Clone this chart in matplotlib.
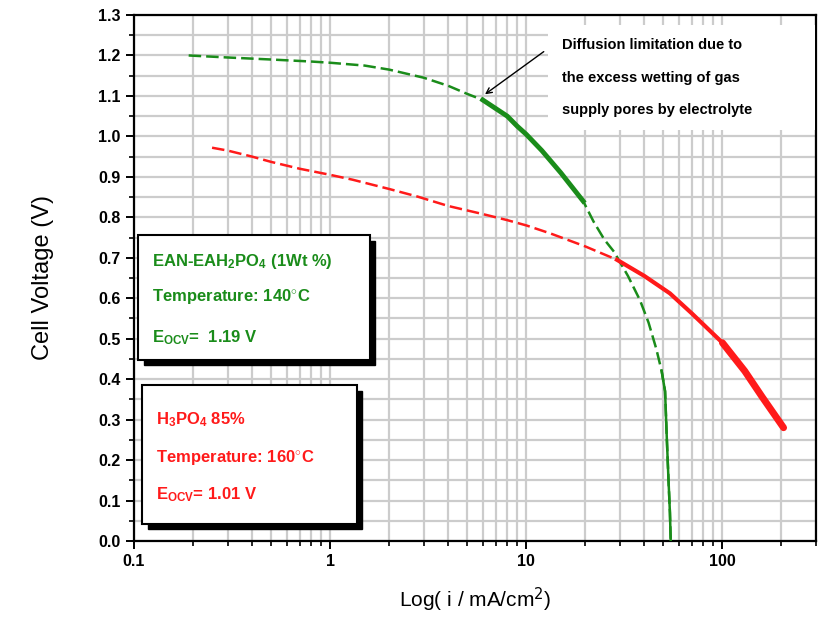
import numpy as np
import matplotlib
matplotlib.use("Agg")
import matplotlib.pyplot as plt
from matplotlib.patches import Rectangle
from matplotlib.ticker import LogLocator, MultipleLocator, NullFormatter, FixedFormatter, FixedLocator

plt.rcParams['font.family'] = ['Liberation Sans', 'DejaVu Sans']
plt.rcParams['mathtext.fontset'] = 'custom'
plt.rcParams['mathtext.rm'] = 'Liberation Sans:bold'
plt.rcParams['mathtext.default'] = 'rm'

# EAN-EAH2PO4 cell (green)
green_i = [0.19, 0.3, 0.5, 0.8, 1.0, 1.5, 2.0, 3.0, 4.0, 5.0, 6.0, 8.0, 9.0, 10, 12, 15,
           19.5, 22, 25, 28, 33, 38, 42, 46, 49, 51, 52, 53, 54, 54.5]
green_v = [1.20, 1.195, 1.19, 1.185, 1.182, 1.175, 1.165, 1.145, 1.125, 1.105, 1.09, 1.05,
           1.025, 1.005, 0.965, 0.91, 0.84, 0.79, 0.745, 0.715, 0.655, 0.595, 0.54, 0.475,
           0.42, 0.37, 0.26, 0.16, 0.07, 0.0]

# H3PO4 85% cell (red)
red_i = [0.25, 0.3, 0.4, 0.5, 0.7, 1.0, 1.3, 2.0, 2.8, 4.0, 6.0, 8.0, 10, 13.3, 20, 29,
         40, 54, 70, 100, 130, 160, 205]
red_v = [0.972, 0.965, 0.95, 0.937, 0.92, 0.905, 0.893, 0.87, 0.851, 0.828, 0.808, 0.793,
         0.78, 0.76, 0.728, 0.695, 0.655, 0.612, 0.562, 0.49, 0.42, 0.355, 0.28]

green_c = '#1a8c1a'
red_c = '#ff1a1a'

fig = plt.figure(figsize=(8.21, 6.17), dpi=100)
ax = fig.add_axes([134/821, 1-541/617, 682/821, 526/617])

ax.set_xscale('log')
ax.set_xlim(0.1, 300)
ax.set_ylim(0, 1.3)

ax.xaxis.set_major_locator(FixedLocator([0.1, 1, 10, 100]))
ax.xaxis.set_major_formatter(FixedFormatter(['0.1', '1', '10', '100']))
ax.xaxis.set_minor_locator(LogLocator(base=10, subs=np.arange(2, 10), numticks=20))
ax.xaxis.set_minor_formatter(NullFormatter())
ax.yaxis.set_major_locator(MultipleLocator(0.1))
ax.yaxis.set_minor_locator(MultipleLocator(0.05))
ax.yaxis.set_major_formatter(matplotlib.ticker.FormatStrFormatter('%.1f'))

ax.grid(True, which='both', color='#cccccc', linewidth=1.6, zorder=0)
ax.set_axisbelow(True)

for s in ax.spines.values():
    s.set_linewidth(1.6)
ax.tick_params(which='major', direction='out', length=6, width=1.4, labelsize=11.5)
ax.tick_params(which='minor', direction='out', length=3.5, width=1.2)
for lab in ax.get_xticklabels() + ax.get_yticklabels():
    lab.set_fontweight('bold')

# curves: sparse dashed parts plus dense segments
ax.plot(green_i, green_v, color=green_c, lw=1.8, ls=(0, (5, 2)), zorder=3)
gi = np.array(green_i); gv = np.array(green_v)
m = (gi >= 6) & (gi <= 19.5)
ax.plot(gi[m], gv[m], color=green_c, lw=3.5, zorder=3)
m2 = gi >= 49
ax.plot(gi[m2], gv[m2], color=green_c, lw=1.8, zorder=3)

ax.plot(red_i, red_v, color=red_c, lw=1.8, ls=(0, (5, 2)), zorder=3)
ri = np.array(red_i); rv = np.array(red_v)
m = ri >= 29
ax.plot(ri[m], rv[m], color=red_c, lw=3.0, zorder=3)
m = ri >= 100
ax.plot(ri[m], rv[m], color=red_c, lw=5.0, solid_capstyle='round', zorder=3)

ax.set_ylabel('Cell Voltage (V)', fontsize=17, labelpad=32)
ax.set_xlabel('Log( i / mA/cm$^{\\mathsf{2}}$)', fontsize=15, labelpad=12)

def box(x0, y0, x1, y1):
    sh = Rectangle((x0 + 0.008, y0 - 0.011), x1 - x0, y1 - y0, transform=ax.transAxes,
                   facecolor='black', edgecolor='black', zorder=5, clip_on=False)
    bx = Rectangle((x0, y0), x1 - x0, y1 - y0, transform=ax.transAxes,
                   facecolor='white', edgecolor='black', lw=1.5, zorder=6, clip_on=False)
    ax.add_patch(sh)
    ax.add_patch(bx)

box(0.006, 0.345, 0.346, 0.582)
box(0.012, 0.033, 0.327, 0.297)

tk = dict(transform=ax.transAxes, fontsize=12, fontweight='bold', zorder=7, va='center')
ax.text(0.026, 0.532, 'EAN-EAH$_2$PO$_4$ (1Wt %)', color=green_c, **tk)
ax.text(0.026, 0.464, 'Temperature: 140$^{\\circ}$C', color=green_c, **tk)
ax.text(0.026, 0.386, 'E$_{OCV}$=  1.19 V', color=green_c, **tk)

ax.text(0.032, 0.230, 'H$_3$PO$_4$ 85%', color=red_c, **tk)
ax.text(0.032, 0.158, 'Temperature: 160$^{\\circ}$C', color=red_c, **tk)
ax.text(0.032, 0.088, 'E$_{OCV}$= 1.01 V', color=red_c, **tk)

# note box
note = Rectangle(((548-134)/682, (541-130)/526), (815-548)/682, 105/526, transform=ax.transAxes,
                 facecolor='white', edgecolor='none', zorder=4)
ax.add_patch(note)
nk = dict(transform=ax.transAxes, fontsize=10.5, fontweight='bold', zorder=5, va='center')
ax.text((562-134)/682, (541-45)/526, 'Diffusion limitation due to', **nk)
ax.text((562-134)/682, (541-78)/526, 'the excess wetting of gas', **nk)
ax.text((562-134)/682, (541-110)/526, 'supply pores by electrolyte', **nk)
ax.annotate('', xy=(6.0, 1.10), xytext=((546-134)/682, (541-50)/526),
            textcoords='axes fraction',
            arrowprops=dict(arrowstyle='->', color='black', lw=1.0), zorder=6)

fig.savefig('out.png', dpi=100)
